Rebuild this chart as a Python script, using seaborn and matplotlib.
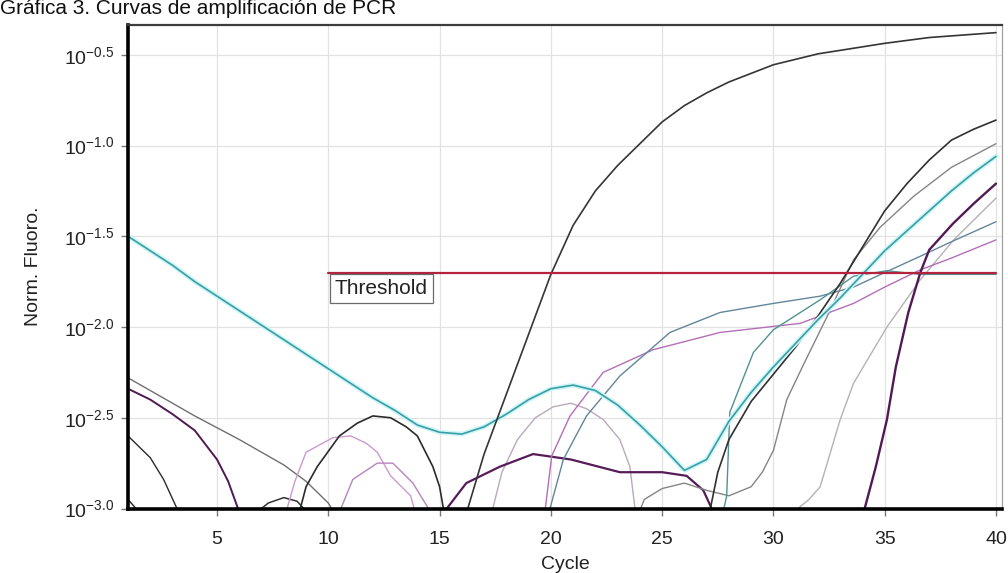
import numpy as np
import pandas as pd
import matplotlib
matplotlib.use('Agg')
import matplotlib.pyplot as plt
import seaborn as sns

# - values, stored as log10(Norm. Fluoro.) - #
cyc_big = [15.9, 17, 18, 19, 20, 21, 22, 23, 24, 25, 26, 27, 28, 30, 32, 35, 37, 40]
log_big = [-3.15, -2.70, -2.37, -2.04, -1.71, -1.44, -1.25, -1.11, -0.99, -0.87, -0.78, -0.71, -0.65, -0.555, -0.495, -0.437, -0.405, -0.378]

cyc_cyan = list(range(1, 41))
log_cyan = [-1.50, -1.58, -1.66, -1.75, -1.83, -1.91, -1.99, -2.07, -2.15, -2.23,
            -2.31, -2.39, -2.46, -2.54, -2.58, -2.59, -2.55, -2.48, -2.40, -2.34,
            -2.32, -2.35, -2.43, -2.54, -2.66, -2.79, -2.73, -2.52, -2.36, -2.22,
            -2.09, -1.96, -1.84, -1.71, -1.58, -1.47, -1.36, -1.25, -1.15, -1.06]

cyc_dark = [27.0, 27.5, 28, 29, 30, 31, 32, 33, 34, 35, 36, 37, 38, 39, 40]
log_dark = [-3.1, -2.80, -2.62, -2.41, -2.26, -2.11, -1.94, -1.76, -1.56, -1.36, -1.21, -1.08, -0.97, -0.91, -0.86]

cyc_gray = [23.7, 24.2, 25, 26, 27, 28, 29, 29.5, 30, 30.6, 31.3, 32.5, 33.6, 34.8, 36.3, 38, 40]
log_gray = [-3.1, -2.95, -2.89, -2.86, -2.90, -2.93, -2.88, -2.80, -2.68, -2.40, -2.22, -1.92, -1.63, -1.45, -1.28, -1.12, -0.99]

cyc_purple = [33.9, 34.1, 34.6, 35.1, 35.5, 36.06, 36.6, 37.0, 38.07, 39, 40]
log_purple = [-3.2, -3.0, -2.77, -2.51, -2.22, -1.92, -1.70, -1.575, -1.43, -1.32, -1.21]

cyc_light = [30.5, 31.1, 31.6, 32.1, 33.0, 33.6, 35.1, 36.6, 38.1, 40]
log_light = [-3.2, -3.0, -2.95, -2.88, -2.51, -2.31, -2.00, -1.74, -1.52, -1.29]

cyc_slate = [19.8, 19.96, 20.56, 21.6, 23.1, 25.35, 27.6, 30, 32.1, 33.6, 35, 36.6, 38, 40]
log_slate = [-3.3, -3.0, -2.73, -2.49, -2.27, -2.03, -1.92, -1.87, -1.83, -1.78, -1.70, -1.61, -1.53, -1.42]

cyc_pink = [19.6, 19.75, 20.04, 20.86, 22.35, 24.6, 27.6, 31.2, 33.6, 35, 36.6, 38, 40]
log_pink = [-3.3, -3.0, -2.71, -2.49, -2.25, -2.125, -2.03, -1.98, -1.87, -1.78, -1.685, -1.62, -1.52]

cyc_teal = [27.6, 27.9, 28.04, 29.1, 30, 32.1, 33.6, 35.1, 36.6, 38, 40]
log_teal = [-3.1, -2.93, -2.47, -2.14, -2.015, -1.85, -1.72, -1.69, -1.71, -1.71, -1.71]

# low, noisy wells on the left
cyc_l1 = [1, 2, 3, 4, 5, 6, 7, 8, 9, 10, 10.4]
log_l1 = [-2.28, -2.35, -2.42, -2.49, -2.555, -2.62, -2.69, -2.76, -2.85, -2.97, -3.05]
cyc_l2 = [1, 2, 3, 4, 5, 5.5, 6]
log_l2 = [-2.34, -2.40, -2.48, -2.57, -2.73, -2.85, -3.02]
cyc_l3 = [1, 2, 2.6, 3.2, 3.4]
log_l3 = [-2.60, -2.72, -2.84, -3.0, -3.05]
cyc_l4 = [1, 1.5]
log_l4 = [-2.95, -3.02]
cyc_arc_s = [6.8, 7.3, 8.0, 8.6, 9.04]
log_arc_s = [-3.02, -2.97, -2.94, -2.96, -3.02]
cyc_arc_b = [8.7, 9.0, 9.5, 10.5, 11.3, 12.0, 12.8, 13.5, 14.0, 14.7, 15.0, 15.2]
log_arc_b = [-3.02, -2.88, -2.77, -2.60, -2.53, -2.49, -2.50, -2.55, -2.60, -2.77, -2.88, -3.02]
cyc_arc_p1 = [8.1, 8.5, 9.0, 10.2, 11.0, 11.7, 12.2, 12.8, 13.7, 13.9]
log_arc_p1 = [-3.02, -2.85, -2.69, -2.61, -2.60, -2.64, -2.69, -2.82, -2.93, -3.02]
cyc_arc_p2 = [10.5, 11.1, 12.2, 12.9, 13.8, 14.6]
log_arc_p2 = [-3.02, -2.84, -2.75, -2.75, -2.86, -3.02]
cyc_arc_m = [15.2, 16.2, 17.7, 19.2, 20.9, 23.1, 25.0, 26.1, 26.85, 27.3]
log_arc_m = [-3.02, -2.86, -2.77, -2.70, -2.73, -2.80, -2.80, -2.82, -2.90, -3.02]
cyc_arc_g = [17.35, 17.8, 18.5, 19.3, 20.1, 20.9, 21.6, 22.35, 23.1, 23.55, 23.8]
log_arc_g = [-3.02, -2.80, -2.62, -2.50, -2.44, -2.42, -2.45, -2.51, -2.62, -2.77, -3.02]

threshold_log = -1.70
threshold_from = 10
threshold_to = 40

x_ticks = [5, 10, 15, 20, 25, 30, 35, 40]
y_exps = [-3.0, -2.5, -2.0, -1.5, -1.0, -0.5]

#######################################################################

sns.set_theme(style='whitegrid')
plt.rcParams['font.family'] = ['Liberation Sans', 'DejaVu Sans']
plt.rcParams['mathtext.default'] = 'regular'

fig = plt.figure(figsize=(10.08, 5.73), dpi=100)
ax = fig.add_axes([128/1008, 1 - 508.5/573, (1002-128)/1008, (508.5-25)/573])
ax.set_facecolor('white')

curves = [
    (cyc_l4, log_l4, '#222222', 1.0),
    (cyc_l3, log_l3, '#2a2a2a', 1.0),
    (cyc_l1, log_l1, '#6f6f6f', 1.0),
    (cyc_l2, log_l2, '#4e1a52', 1.4),
    (cyc_arc_s, log_arc_s, '#333333', 1.1),
    (cyc_arc_p1, log_arc_p1, '#cf98d2', 1.0),
    (cyc_arc_p2, log_arc_p2, '#b784bb', 1.0),
    (cyc_arc_b, log_arc_b, '#2b2b2b', 1.2),
    (cyc_arc_g, log_arc_g, '#bba8bd', 1.0),
    (cyc_arc_m, log_arc_m, '#551c58', 1.6),
    (cyc_gray, log_gray, '#858585', 1.0),
    (cyc_light, log_light, '#b3b3b3', 1.0),
    (cyc_pink, log_pink, '#b36fb8', 1.0),
    (cyc_slate, log_slate, '#62869a', 1.0),
    (cyc_teal, log_teal, '#4f9393', 1.0),
    (cyc_dark, log_dark, '#303030', 1.2),
    (cyc_purple, log_purple, '#521a55', 1.7),
]
for cx, cl, col, lw in curves:
    sns.lineplot(x=cx, y=10.0 ** np.array(cl), ax=ax, color=col, lw=lw, sort=False, estimator=None)

# cyan well with its pale halo
sns.lineplot(x=cyc_cyan, y=10.0 ** np.array(log_cyan), ax=ax, color='#cdf6f8', lw=3.5, sort=False, estimator=None)
sns.lineplot(x=cyc_cyan, y=10.0 ** np.array(log_cyan), ax=ax, color='#3a9ea3', lw=1.2, sort=False, estimator=None)
sns.lineplot(x=cyc_big, y=10.0 ** np.array(log_big), ax=ax, color='#353535', lw=1.2, sort=False, estimator=None)

# threshold line + label
thr = 10.0 ** threshold_log
ax.plot([threshold_from, threshold_to], [thr, thr], color='#b3233d', lw=1.6, zorder=5)
ax.annotate('Threshold', xy=(threshold_from, thr), xytext=(4.8, -4.8), textcoords='offset points',
            ha='left', va='top', fontsize=15, color='#222222', zorder=6,
            bbox=dict(boxstyle='square,pad=0.25', fc='white', ec='#6a6a6a', lw=0.9))

ax.set_yscale('log')
ax.set_xlim(1, 40.27)
ax.set_ylim(10.0 ** -3.0, 10.0 ** -0.336)
ax.set_xticks(x_ticks)
ax.set_xticklabels([str(t) for t in x_ticks])
ax.set_yticks([10.0 ** e for e in y_exps])
ax.set_yticklabels([r'$10^{%.1f}$' % e for e in y_exps])
ax.yaxis.set_minor_locator(matplotlib.ticker.NullLocator())

ax.grid(True, color='#e2e2e2', lw=0.9)
ax.tick_params(axis='both', which='major', labelsize=14, colors='#222222', length=5, width=1,
               direction='out', bottom=True, left=True)
ax.tick_params(axis='x', pad=11)
ax.tick_params(axis='y', pad=5)
ax.tick_params(axis='both', color='#777777')

for side in ['left', 'bottom']:
    ax.spines[side].set_color('black')
    ax.spines[side].set_linewidth(2.6)
ax.spines['top'].set_color('#3c3c3c')
ax.spines['top'].set_linewidth(1.6)
ax.spines['right'].set_color('#a0a0a0')
ax.spines['right'].set_linewidth(0.9)

ax.set_xlabel('Cycle', fontsize=14, color='#222222', labelpad=6)
ax.set_ylabel('Norm. Fluoro.', fontsize=14, color='#222222', labelpad=16)

fig.text(0.0, 1 - 14/573, 'Gráfica 3. Curvas de amplificación de PCR', fontsize=15,
         color='#111111', ha='left', va='baseline')

fig.savefig('out.png', dpi=100, facecolor='white')
